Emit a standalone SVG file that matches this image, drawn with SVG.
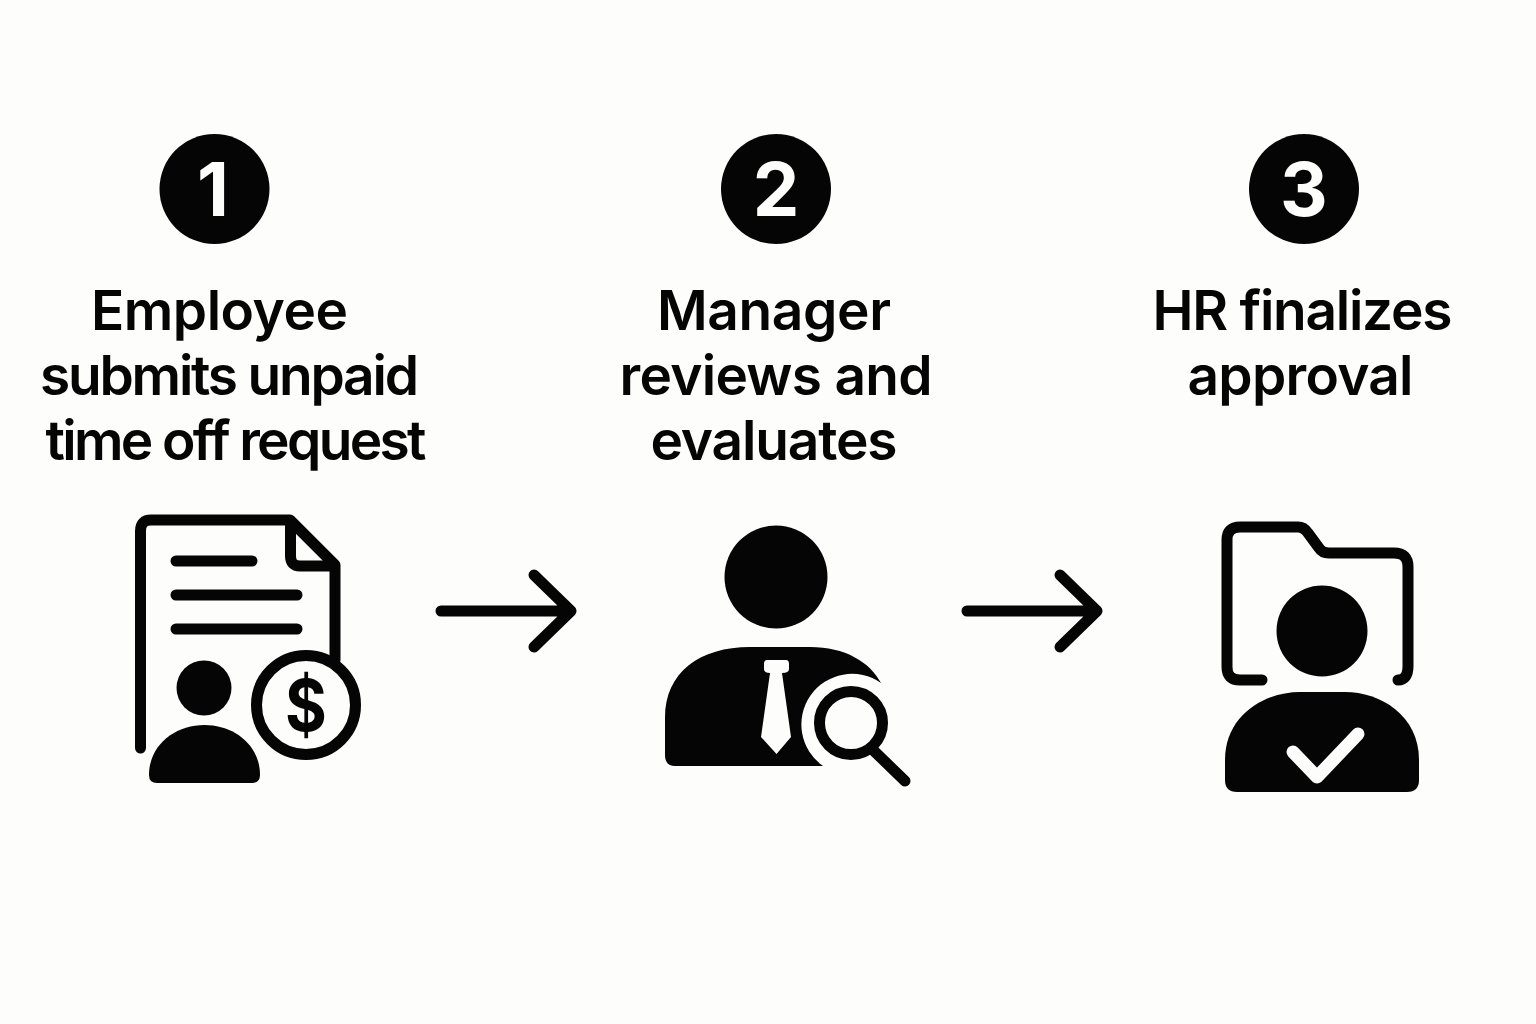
<svg xmlns="http://www.w3.org/2000/svg" width="1536" height="1024" viewBox="0 0 1536 1024">
<style>
.t{font-family:Inter,"Liberation Sans",sans-serif;font-size:55px;font-weight:600;fill:#050505;text-anchor:middle}
.n{font-family:Inter,"Liberation Sans",sans-serif;font-size:74px;font-weight:700;fill:#fdfdfb;text-anchor:middle}
.k{fill:#050505}
.s{fill:none;stroke:#050505;stroke-width:11;stroke-linecap:round;stroke-linejoin:round}
</style>
<rect width="1536" height="1024" fill="#fdfdfb"/>
<g id="step1">
<circle class="k" cx="214.500" cy="189" r="55"/>
<text class="n" x="213" y="216">1</text>
<text class="t" x="219.500" y="330" textLength="257">Employee</text>
<text class="t" x="229.500" y="395" textLength="379">submits unpaid</text>
<text class="t" x="236" y="460" textLength="381">time off request</text>
<path class="s" d="M140.500 748V531Q140.500 520 151 520H290L335 565V660"/>
<path class="s" stroke-width="12" d="M290.500 522V556Q290.500 566 300 566H334"/>
<path class="s" d="M176 561H252M176 595H297M176 629H297"/>
<circle class="k" cx="204" cy="688" r="27.500"/>
<path class="k" d="M149 775C149 745 175 725 204.500 725C234 725 260 745 260 775Q260 783 252 783H157Q149 783 149 775Z"/>
<circle cx="306" cy="705" r="49.500" fill="#fdfdfb" stroke="#050505" stroke-width="11"/>
<text transform="translate(306 731) scale(0.9 1)" font-family="Inter,'Liberation Sans',sans-serif" font-size="71" font-weight="700" fill="#050505" text-anchor="middle">$</text>
</g>
<g id="step2">
<circle class="k" cx="776" cy="189" r="55"/>
<text class="n" x="776" y="216">2</text>
<text class="t" x="774" y="330" textLength="234">Manager</text>
<text class="t" x="776" y="395" textLength="313">reviews and</text>
<text class="t" x="774" y="460" textLength="247">evaluates</text>
<circle class="k" cx="776" cy="577" r="51.500"/>
<path class="k" d="M665 755V718C665 672 700 647 750 647H810C845 647 870 662 881 683A50 50 0 1 0 823 766H675Q665 766 665 755Z"/>
<path d="M767 660H786Q789 660 789 664V669Q789 673 782 673L791 737L776.500 754L761 737L770 673Q764 673 764 669V664Q764 660 767 660Z" fill="#fdfdfb"/>
<circle cx="851" cy="723" r="31.500" fill="none" stroke="#050505" stroke-width="11"/>
<path class="s" d="M873 750L905 781"/>
</g>
<g id="step3">
<circle class="k" cx="1304" cy="189" r="55"/>
<text class="n" x="1304" y="216">3</text>
<text class="t" x="1302.500" y="330" textLength="300">HR finalizes</text>
<text class="t" x="1300.500" y="395" textLength="226">approval</text>
<path class="s" d="M1262 680H1240Q1227 680 1227 667V540Q1227 527 1240 527H1298Q1304 527 1308 533L1319 548Q1322 553 1329 553H1394Q1408 553 1408 567V666Q1408 680 1398 680"/>
<circle class="k" cx="1322" cy="631" r="45.500"/>
<path class="k" d="M1225 780V760C1225 715 1265 692 1300 692H1345C1380 692 1419 715 1419 760V780Q1419 792 1407 792H1237Q1225 792 1225 780Z"/>
<path d="M1293 752L1317 777L1358 734" fill="none" stroke="#fdfdfb" stroke-width="13" stroke-linecap="round" stroke-linejoin="round"/>
</g>
<g id="connectors">
<path class="s" d="M441 611H571M534 575L571 611L534 647"/>
<path class="s" d="M967 611H1097M1060 575L1097 611L1060 647"/>
</g>
</svg>
